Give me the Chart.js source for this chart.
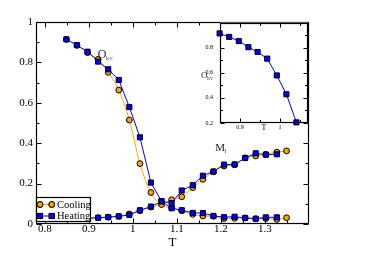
<!DOCTYPE html>
<html><head><meta charset="utf-8">
<script src="https://cdn.jsdelivr.net/npm/chart.js@4"></script>
<style>
html,body{margin:0;padding:0;background:#fff;}
#wrap{position:relative;width:374px;height:265px;overflow:hidden;}
#main{position:absolute;left:0;top:0;}
#inset{position:absolute;left:190px;top:12px;}
</style></head><body>
<div id="wrap"><canvas id="main" width="374" height="265"></canvas><canvas id="inset" width="125" height="128"></canvas></div>
<script>
// ---- data ----
const temps    = [0.849,0.873,0.897,0.921,0.944,0.968,0.992,1.016,1.041,1.065,1.088,1.111,1.136,1.159,1.183,1.207,1.231,1.255,1.279,1.302,1.327,1.349];
const coolingO = [0.914,0.884,0.848,0.815,0.751,0.663,0.515,0.299,0.156,0.096,0.080,0.066,0.048,0.040,0.038,0.027,0.028,0.030,0.026,0.027,0.023,0.031];
const coolingM = [0.028,0.028,0.029,0.031,0.034,0.038,0.050,0.066,0.084,0.100,0.120,0.135,0.180,0.221,0.258,0.287,0.293,0.327,0.337,0.345,0.356,0.362];
const heatingO = [0.914,0.886,0.853,0.804,0.766,0.713,0.579,0.429,0.205,0.113,0.078,0.068,0.055,0.054,0.040,0.034,0.036,0.030,0.026,0.033,0.033];
const heatingM = [0.028,0.028,0.029,0.031,0.034,0.038,0.045,0.068,0.086,0.112,0.104,0.166,0.192,0.239,0.260,0.294,0.295,0.327,0.350,0.343,0.345];
const legendLabels = ['Cooling','Heating'];
const xTicks = [0.8,0.9,1,1.1,1.2,1.3];
const xTickLabels = ['0.8','0.9','1','1.1','1.2','1.3'];
const xMinorTicks = [0.85,0.95,1.05,1.15,1.25,1.35];
const yTicks = [0,0.2,0.4,0.6,0.8,1];
const yTickLabels = ['0','0.2','0.4','0.6','0.8','1'];
const yMinorTicks = [0.1,0.3,0.5,0.7,0.9];
const insetXTicks = [0.9,1];
const insetXTickLabels = ['0.9','1'];
const insetXMinorTicks = [0.95,1.05];
const insetYTicks = [0.2,0.4,0.6,0.8];
const insetYTickLabels = ['0.2','0.4','0.6','0.8'];
const insetYMinorTicks = [0.3,0.5,0.7,0.9];
const insetXRange = [0.85,1.07];
const insetYRange = [0.2,1.0];

const SERIF = '"Liberation Serif", "DejaVu Serif", serif';
const ORANGE = '#FFA500', BLUE = '#0000FF';
const SQ_R = 3.6, CI_R = 2.9;

function pts(vals){ return vals.map((v,i)=>({x:temps[i], y:v})); }

function ds(label, vals, color, style, order, radius, tension){
  return {label, data: pts(vals), borderColor: color, backgroundColor: color,
    borderWidth: 1, pointStyle: style, pointRadius: radius, pointBorderColor: '#000',
    pointBorderWidth: 1, pointBackgroundColor: color, order, tension,
    cubicInterpolationMode: tension ? 'monotone' : 'default', clip: false};
}

function frameTicks(chart, xs, xm, ys, ym, maj, mn){
  const {ctx, chartArea:a, scales:{x,y}} = chart;
  ctx.save();
  ctx.strokeStyle = '#000'; ctx.lineWidth = 1;
  const L = Math.round(a.left)+0.5, R = Math.round(a.right)-0.5, T = Math.round(a.top)+0.5, B = Math.round(a.bottom)-0.5;
  ctx.beginPath();
  const vx = (v,len)=>{ const p = Math.round(x.getPixelForValue(v))+0.5; ctx.moveTo(p,B); ctx.lineTo(p,B-len); ctx.moveTo(p,T); ctx.lineTo(p,T+len); };
  const hy = (v,len)=>{ const p = Math.round(y.getPixelForValue(v))+0.5; ctx.moveTo(L,p); ctx.lineTo(L+len,p); ctx.moveTo(R,p); ctx.lineTo(R-len,p); };
  xs.forEach(v=>vx(v,maj)); xm.forEach(v=>vx(v,mn));
  ys.forEach(v=>hy(v,maj)); ym.forEach(v=>hy(v,mn));
  ctx.stroke();
  ctx.lineWidth = 1.2;
  ctx.strokeRect(L, T, R-L, B-T);
  ctx.restore();
}

function subLabel(ctx, px, py, main, sub, size, color, subColor){
  ctx.save();
  ctx.textBaseline = 'middle'; ctx.textAlign = 'left';
  ctx.font = size + 'px ' + SERIF; ctx.fillStyle = color;
  ctx.fillText(main, px, py);
  const w = ctx.measureText(main).width;
  ctx.font = Math.round(size*0.62) + 'px ' + SERIF; ctx.fillStyle = subColor;
  ctx.fillText(sub, px + w - 0.5, py + size*0.32);
  ctx.restore();
}

const mainPlugin = {
  id: 'mainDecor',
  beforeDraw(chart){ const c = chart.ctx; c.save(); c.fillStyle = '#fff'; c.fillRect(0,0,chart.width,chart.height); c.restore(); },
  afterDraw(chart){
    const {ctx, scales:{x,y}} = chart;
    frameTicks(chart, xTicks, xMinorTicks, yTicks, yMinorTicks, 5, 3);
    // curve labels
    subLabel(ctx, x.getPixelForValue(0.920), y.getPixelForValue(0.838), 'O', 'kv', 12, '#222', '#666');
    subLabel(ctx, x.getPixelForValue(1.187), y.getPixelForValue(0.376), 'M', 'l', 11, '#222', '#444');
    // legend
    const bx = chart.chartArea.left, by = 197, bw = 54, bh = 24;
    ctx.save();
    ctx.fillStyle = '#fff'; ctx.fillRect(bx, by, bw, bh);
    ctx.strokeStyle = '#000'; ctx.lineWidth = 1.2; ctx.strokeRect(bx+0.5, by+0.5, bw, bh);
    const rows = [{label: legendLabels[0], color: ORANGE, style: 'circle', r: CI_R, yy: by+7.5},
                  {label: legendLabels[1], color: BLUE, style: 'rect', r: SQ_R, yy: by+19}];
    rows.forEach(rw=>{
      ctx.strokeStyle = rw.color; ctx.lineWidth = 1;
      ctx.beginPath(); ctx.moveTo(bx+4, rw.yy); ctx.lineTo(bx+16, rw.yy); ctx.stroke();
      [bx+4, bx+15.7].forEach(px=>{
        ctx.fillStyle = rw.color; ctx.strokeStyle = '#000'; ctx.lineWidth = 1;
        Chart.helpers.drawPoint(ctx, {pointStyle: rw.style, radius: rw.r, borderWidth: 1}, px, rw.yy);
        ctx.fill(); ctx.stroke();
      });
      ctx.fillStyle = '#000'; ctx.font = '10.5px ' + SERIF; ctx.textBaseline = 'middle'; ctx.textAlign = 'left';
      ctx.fillText(rw.label, bx+21, rw.yy+0.5);
    });
    ctx.restore();
  }
};

new Chart(document.getElementById('main'), {
  type: 'line',
  data: { datasets: [
    ds(legendLabels[0]+' O', coolingO, ORANGE, 'circle', 1, CI_R, 0.4),
    ds(legendLabels[0]+' M', coolingM, ORANGE, 'circle', 1, CI_R, 0.4),
    ds(legendLabels[1]+' O', heatingO, BLUE, 'rect', 0, SQ_R, 0),
    ds(legendLabels[1]+' M', heatingM, BLUE, 'rect', 0, SQ_R, 0)
  ]},
  options: {
    responsive: false, devicePixelRatio: 1, animation: false,
    layout: { padding: { left: 0, right: 65, top: 22, bottom: 0 } },
    plugins: { legend: { display: false }, tooltip: { enabled: false } },
    scales: {
      x: { type: 'linear', min: 0.78, max: 1.4,
        afterBuildTicks: s => { s.ticks = xTicks.map(v=>({value:v})); },
        afterFit: s => { s.height = 41; },
        grid: { display: false, drawTicks: false }, border: { display: false },
        ticks: { padding: -1, color: '#000', font: { family: SERIF, size: 11 }, maxRotation: 0, autoSkip: false,
          callback: (v,i) => xTickLabels[i] },
        title: { display: true, text: 'T', color: '#000', font: { family: SERIF, size: 13 }, padding: { top: 0, bottom: 15 } } },
      y: { type: 'linear', min: 0, max: 1,
        afterBuildTicks: s => { s.ticks = yTicks.map(v=>({value:v})); },
        afterFit: s => { s.width = 36; },
        grid: { display: false, drawTicks: false }, border: { display: false },
        ticks: { padding: 3, color: '#000', font: { family: SERIF, size: 11 }, autoSkip: false,
          callback: (v,i) => yTickLabels[i] } }
    }
  },
  plugins: [mainPlugin]
});

const insetPlugin = {
  id: 'insetDecor',
  beforeDatasetsDraw(chart){ const {ctx, chartArea:a} = chart; ctx.save(); ctx.fillStyle = '#fff'; ctx.fillRect(a.left, a.top, a.right-a.left, a.bottom-a.top); ctx.restore(); },
  afterDraw(chart){
    frameTicks(chart, insetXTicks, insetXMinorTicks, insetYTicks, insetYMinorTicks, 4, 2.5);
    subLabel(chart.ctx, 11, 63.5, 'O', 'kv', 9, '#222', '#555');
  }
};

const insetData = pts(heatingO).filter(p => p.x <= insetXRange[1] && p.y >= insetYRange[0]);
new Chart(document.getElementById('inset'), {
  type: 'line',
  data: { datasets: [{ label: legendLabels[1], data: insetData, borderColor: BLUE, borderWidth: 1,
    pointStyle: 'rect', pointRadius: SQ_R, pointBackgroundColor: BLUE, pointBorderColor: '#000', pointBorderWidth: 1,
    tension: 0, clip: false }] },
  options: {
    responsive: false, devicePixelRatio: 1, animation: false,
    layout: { padding: { left: 0, right: 7, top: 10, bottom: 0 } },
    plugins: { legend: { display: false }, tooltip: { enabled: false } },
    scales: {
      x: { type: 'linear', min: insetXRange[0], max: insetXRange[1],
        afterBuildTicks: s => { s.ticks = insetXTicks.map(v=>({value:v})); },
        afterFit: s => { s.height = 17; },
        grid: { display: false, drawTicks: false }, border: { display: false },
        ticks: { padding: 1, color: '#000', font: { family: SERIF, size: 6 }, maxRotation: 0, autoSkip: false,
          callback: (v,i) => insetXTickLabels[i] },
        title: { display: true, text: 'T', color: '#000', font: { family: SERIF, size: 8 }, padding: { top: 0, bottom: 7 } } },
      y: { type: 'linear', min: insetYRange[0], max: insetYRange[1],
        afterBuildTicks: s => { s.ticks = insetYTicks.map(v=>({value:v})); },
        afterFit: s => { s.width = 30; },
        grid: { display: false, drawTicks: false }, border: { display: false },
        ticks: { padding: 7, color: '#000', font: { family: SERIF, size: 6 }, autoSkip: false,
          callback: (v,i) => insetYTickLabels[i] } }
    }
  },
  plugins: [insetPlugin]
});
</script>
</body></html>
